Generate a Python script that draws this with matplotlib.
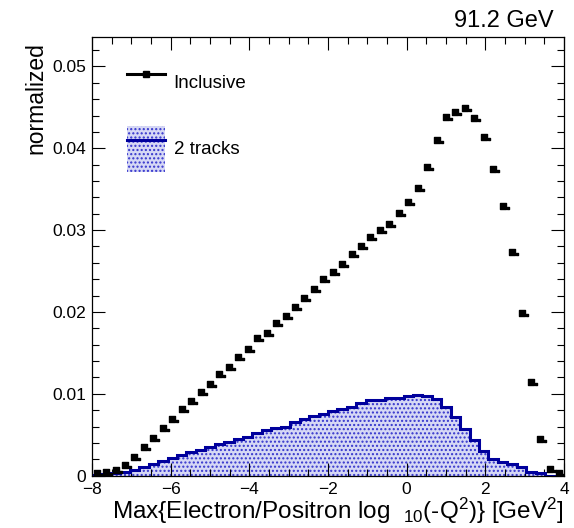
import matplotlib
matplotlib.use('agg')
import matplotlib.pyplot as plt
import numpy as np
from matplotlib.path import Path
from matplotlib.patches import Patch
from matplotlib.lines import Line2D
from matplotlib.ticker import MultipleLocator

plt.rcParams['font.family'] = ['Liberation Sans', 'DejaVu Sans']
plt.rcParams['mathtext.fontset'] = 'custom'
plt.rcParams['mathtext.rm'] = 'Liberation Sans'
plt.rcParams['mathtext.it'] = 'Liberation Sans:italic'

# 50 bins from -8 to 4
edges = np.linspace(-8, 4, 51)
centers = 0.5 * (edges[:-1] + edges[1:])

inclusive = [0.00029, 0.00041, 0.00066, 0.00134, 0.00232, 0.00351, 0.00465, 0.00583,
             0.00697, 0.00815, 0.00913, 0.01023, 0.01117, 0.01247, 0.01329, 0.01447,
             0.01553, 0.01683, 0.01741, 0.01867, 0.01952, 0.02066, 0.02172, 0.02286,
             0.02408, 0.02490, 0.02588, 0.02710, 0.02804, 0.02922, 0.03004, 0.03073,
             0.03215, 0.03342, 0.03517, 0.03774, 0.04104, 0.04385, 0.04443, 0.04492,
             0.04373, 0.04141, 0.03741, 0.03293, 0.02731, 0.01985, 0.01142, 0.00449,
             0.00082, 0.00029]

two_tracks = [0.00005, 0.00020, 0.00033, 0.00045, 0.00070, 0.00110, 0.00143, 0.00176,
              0.00213, 0.00253, 0.00293, 0.00310, 0.00355, 0.00384, 0.00416, 0.00449,
              0.00470, 0.00518, 0.00559, 0.00587, 0.00600, 0.00660, 0.00690, 0.00726,
              0.00754, 0.00791, 0.00819, 0.00844, 0.00885, 0.00925, 0.00925, 0.00954,
              0.00954, 0.00968, 0.00983, 0.00975, 0.00938, 0.00844, 0.00721, 0.00567,
              0.00433, 0.00302, 0.00200, 0.00167, 0.00139, 0.00103, 0.00049, 0.00029,
              0.0, 0.0]

blue = '#00009c'
fill_col = '#d6d8f5'
hatch_col = '#3434cc'

# square marker with small trailing dot, as drawn in the reference
verts = [(-1, -1), (1, -1), (1, 1), (-1, 1), (-1, -1),
         (1.6, -1), (2.5, -1), (2.5, -0.2), (1.6, -0.2), (1.6, -1)]
codes = [Path.MOVETO, Path.LINETO, Path.LINETO, Path.LINETO, Path.CLOSEPOLY] * 2
mark = Path(verts, codes)

fig = plt.figure(figsize=(5.74, 5.28), dpi=100)
ax = fig.add_axes([0.1603, 0.0991, 0.8223, 0.8309])

ax.stairs(two_tracks, edges, fill=True, facecolor=fill_col, edgecolor=hatch_col,
          hatch='....', linewidth=0, zorder=1)
ax.stairs(two_tracks, edges, color=blue, linewidth=2.2, zorder=2)
ax.plot(centers, inclusive, ls='none', marker=mark, markersize=9.2, color='k', zorder=3)

ax.set_xlim(-8, 4)
ax.set_ylim(0, 0.0536)
ax.xaxis.set_minor_locator(MultipleLocator(0.5))
ax.yaxis.set_minor_locator(MultipleLocator(0.002))
ax.set_yticks([0, 0.01, 0.02, 0.03, 0.04, 0.05])
ax.set_yticklabels(['0', '0.01', '0.02', '0.03', '0.04', '0.05'])
ax.set_xticks([-8, -6, -4, -2, 0, 2, 4])
ax.set_xticklabels(['\u22128', '\u22126', '\u22124', '\u22122', '0', '2', '4'])
ax.tick_params(which='both', direction='in', top=True, right=True, labelsize=12.5, width=0.8)
ax.tick_params(which='major', length=9.4, pad=4.5)
ax.tick_params(which='minor', length=4.7)
for s in ax.spines.values():
    s.set_linewidth(0.9)

ax.set_xlabel(r'Max{Electron/Positron log  $_{10}$(-Q$^{2}$)} [GeV$^{2}$]', fontsize=17.5,
              loc='right')
ax.xaxis.set_label_coords(1.0, -0.046)
ax.set_ylabel('normalized', fontsize=16.5, loc='top')
ax.yaxis.set_label_coords(-0.094, 0.989)

fig.text(0.9652, 0.948, '91.2 GeV', ha='right', va='baseline', fontsize=17)

h1 = Line2D([], [], color='k', lw=2.2, marker='s', markersize=4)
h2 = (Patch(facecolor=fill_col, edgecolor=hatch_col, hatch='....', linewidth=0),
      Line2D([], [], color=blue, lw=2.2))
ax.legend([h1, h2], ['Inclusive', '2 tracks'], loc='upper left',
          bbox_to_anchor=(0.0742, 0.9476), frameon=False, fontsize=13.5,
          borderpad=0, borderaxespad=0, handlelength=2.0, handleheight=3.4,
          labelspacing=1.07, handletextpad=0.48)

fig.savefig('out.png', dpi=100)
